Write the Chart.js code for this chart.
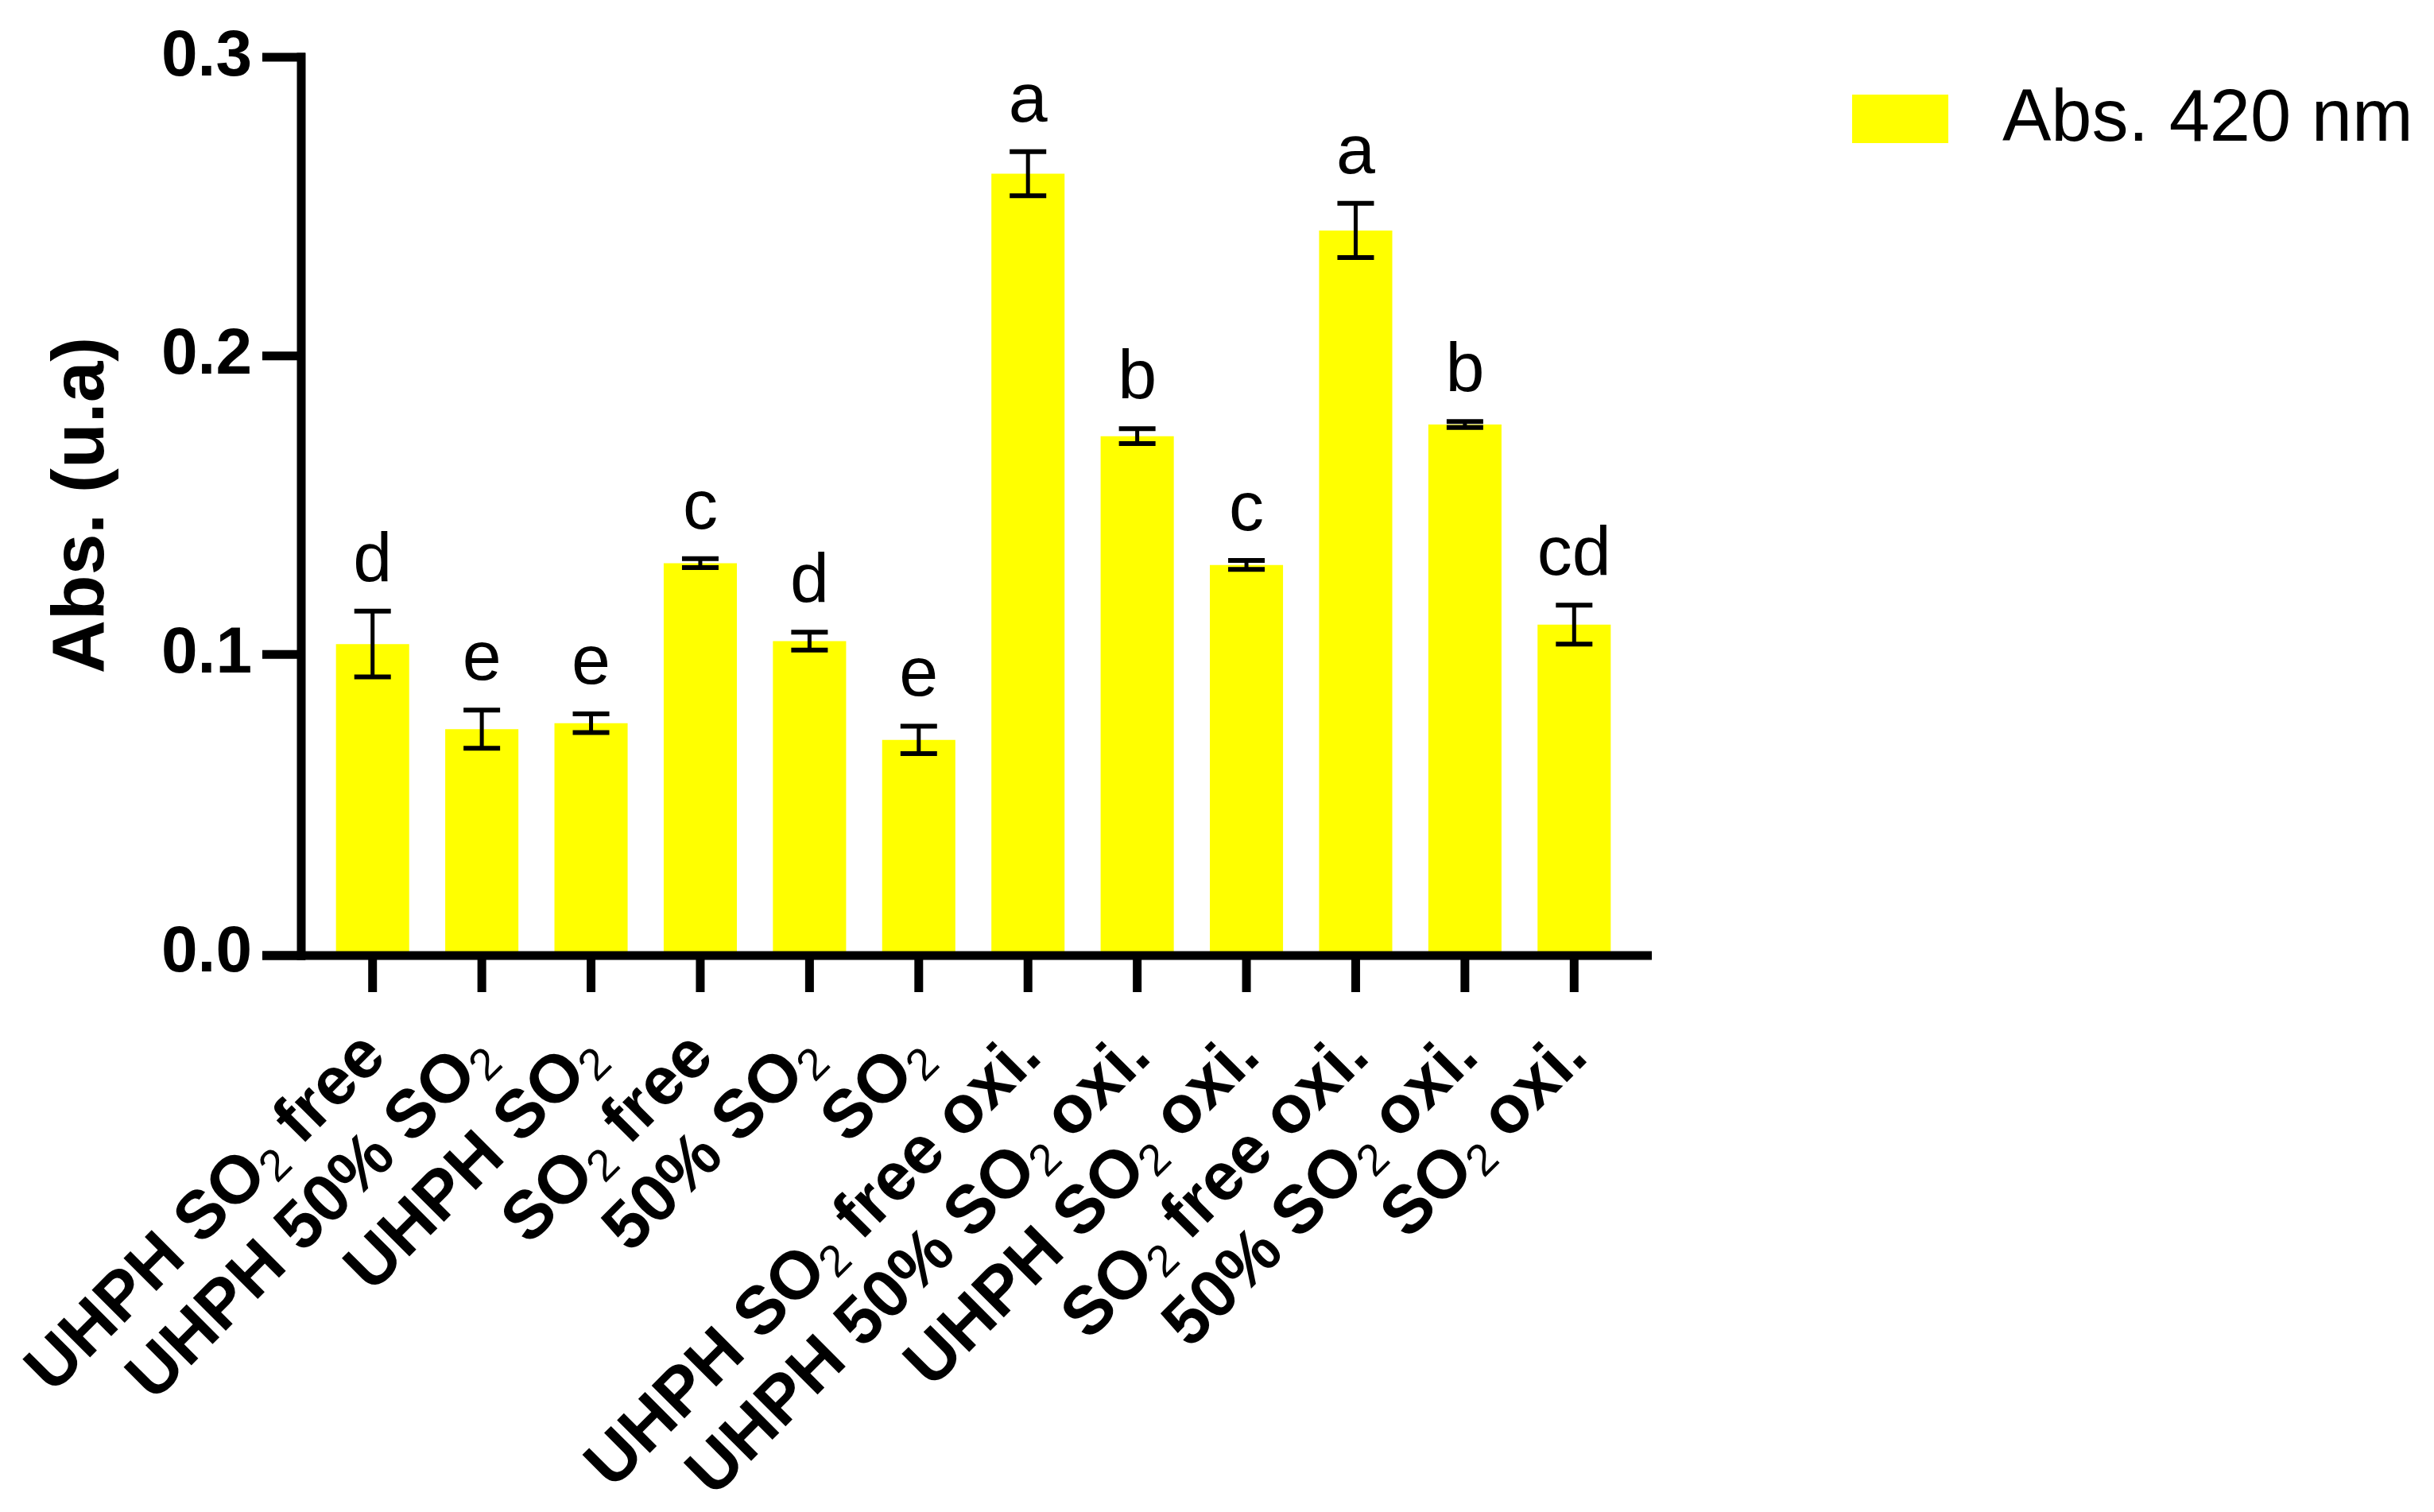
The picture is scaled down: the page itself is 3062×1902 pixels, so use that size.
<!DOCTYPE html>
<html><head><meta charset="utf-8">
<script src="https://cdn.jsdelivr.net/npm/chart.js@4.4.1/dist/chart.umd.min.js"></script>
<style>html,body{margin:0;padding:0;background:#fff;}#wrap{width:3062px;height:1902px;}</style>
</head><body><div id="wrap"><canvas id="c" width="3062" height="1902"></canvas></div>
<script>
const categories = ['UHPH SO₂ free','UHPH 50% SO₂','UHPH SO₂','SO₂ free','50% SO₂','SO₂','UHPH SO₂ free oxi.','UHPH 50% SO₂ oxi.','UHPH SO₂ oxi.','SO₂ free oxi.','50% SO₂ oxi.','SO₂ oxi.'];
const absValues = [0.1035,0.0750,0.0770,0.1306,0.1045,0.0714,0.2610,0.1731,0.1300,0.2420,0.1770,0.1100];
const absErrors = [0.0110,0.0064,0.0031,0.0015,0.0030,0.0046,0.0074,0.0025,0.0015,0.0091,0.0010,0.0065];
const groupLetters = ['d','e','e','c','d','e','a','b','c','a','b','cd'];
const yTicks = [0, 0.1, 0.2, 0.3];
const seriesLabel = 'Abs. 420 nm';
const yTitle = 'Abs. (u.a)';

const FONT = "'Liberation Sans', Arial, Helvetica, sans-serif";
const BAR_COLOR = '#FFFF00';

const axesPlugin = {
  id: 'axesPlugin',
  afterDatasetsDraw(chart) {
    const ctx = chart.ctx, xs = chart.scales.x, ys = chart.scales.y, area = chart.chartArea;
    const axisX = area.left - 21;
    const zeroY = ys.getPixelForValue(0) + 3;
    ctx.save();
    ctx.strokeStyle = '#000';
    ctx.lineCap = 'butt';
    ctx.lineWidth = 11;
    ctx.beginPath(); ctx.moveTo(axisX, ys.getPixelForValue(yTicks[yTicks.length-1]) - 5.5); ctx.lineTo(axisX, zeroY + 5.5); ctx.stroke();
    yTicks.forEach(v => {
      const y = v === 0 ? zeroY : ys.getPixelForValue(v);
      ctx.beginPath(); ctx.moveTo(axisX - 49, y); ctx.lineTo(axisX + 5, y); ctx.stroke();
    });
    ctx.beginPath(); ctx.moveTo(axisX - 49, zeroY); ctx.lineTo(area.right + 29, zeroY); ctx.stroke();
    categories.forEach((lab, i) => {
      const x = xs.getPixelForValue(i);
      ctx.beginPath(); ctx.moveTo(x, zeroY); ctx.lineTo(x, zeroY + 46); ctx.stroke();
      const parts = lab.split('₂');
      const segs = [];
      parts.forEach((p, k) => {
        if (p.length) segs.push({t: p, sub: false});
        if (k < parts.length - 1) segs.push({t: '2', sub: true});
      });
      const mainF = 'bold 85px ' + FONT, subF = '56px ' + FONT;
      let total = 0;
      segs.forEach(s => { ctx.font = s.sub ? subF : mainF; s.w = ctx.measureText(s.t).width; total += s.w; });
      ctx.save();
      ctx.translate(x + 20, 1332);
      ctx.rotate(-Math.PI / 4);
      ctx.fillStyle = '#000';
      ctx.textAlign = 'left';
      ctx.textBaseline = 'alphabetic';
      let cx = -total;
      segs.forEach(s => { ctx.font = s.sub ? subF : mainF; ctx.fillText(s.t, cx, s.sub ? 12 : 0); cx += s.w; });
      ctx.restore();
    });
    ctx.restore();
  }
};

const errorPlugin = {
  id: 'errorPlugin',
  afterDatasetsDraw(chart) {
    const ctx = chart.ctx, xs = chart.scales.x, ys = chart.scales.y;
    ctx.save();
    ctx.strokeStyle = '#000';
    ctx.fillStyle = '#000';
    absValues.forEach((v, i) => {
      const x = xs.getPixelForValue(i);
      const yT = ys.getPixelForValue(v + absErrors[i]);
      const yB = ys.getPixelForValue(v - absErrors[i]);
      ctx.lineWidth = 5;
      ctx.beginPath(); ctx.moveTo(x, yT); ctx.lineTo(x, yB); ctx.stroke();
      ctx.lineWidth = 6;
      ctx.beginPath(); ctx.moveTo(x - 23, yT); ctx.lineTo(x + 23, yT); ctx.stroke();
      ctx.beginPath(); ctx.moveTo(x - 23, yB); ctx.lineTo(x + 23, yB); ctx.stroke();
      ctx.font = '88px ' + FONT;
      ctx.textAlign = 'center';
      ctx.textBaseline = 'alphabetic';
      ctx.fillText(groupLetters[i], x, yT - 38);
    });
    ctx.restore();
  }
};

const legendPlugin = {
  id: 'legendPlugin',
  afterDraw(chart) {
    const ctx = chart.ctx, ds = chart.data.datasets[0];
    ctx.save();
    ctx.fillStyle = ds.backgroundColor;
    ctx.fillRect(2330, 119, 121, 61);
    ctx.fillStyle = '#000';
    ctx.font = '92px ' + FONT;
    ctx.textAlign = 'left';
    ctx.textBaseline = 'middle';
    ctx.fillText(ds.label, 2519, 152);
    ctx.restore();
  }
};

new Chart(document.getElementById('c'), {
  type: 'bar',
  data: {
    labels: categories,
    datasets: [{
      label: seriesLabel,
      data: absValues,
      backgroundColor: BAR_COLOR,
      borderWidth: 0,
      barPercentage: 0.67,
      categoryPercentage: 1.0
    }]
  },
  options: {
    responsive: false,
    animation: false,
    devicePixelRatio: 1,
    layout: { padding: { top: 72, right: 1013, bottom: 0, left: 0 } },
    plugins: { legend: { display: false }, tooltip: { enabled: false } },
    scales: {
      x: {
        type: 'category',
        offset: true,
        grid: { display: false, drawTicks: false },
        border: { display: false },
        ticks: { display: false },
        afterFit(scale) { scale.height = 703; scale.paddingLeft = 0; scale.paddingRight = 0; }
      },
      y: {
        min: 0, max: 0.3,
        grid: { display: false, drawTicks: false },
        border: { display: false },
        afterBuildTicks(scale) { scale.ticks = yTicks.map(v => ({ value: v })); },
        ticks: {
          color: '#000',
          padding: 83,
          font: { family: FONT, size: 82, weight: 'bold' },
          callback: v => Number(v).toFixed(1)
        },
        title: {
          display: true,
          text: yTitle,
          color: '#000',
          font: { family: FONT, size: 93, weight: 'bold', lineHeight: 1.2 },
          padding: { top: 49, bottom: 0 }
        },
        afterFit(scale) { scale.width = 400; scale.paddingTop = 0; scale.paddingBottom = 0; }
      }
    }
  },
  plugins: [axesPlugin, errorPlugin, legendPlugin]
});
</script></body></html>
